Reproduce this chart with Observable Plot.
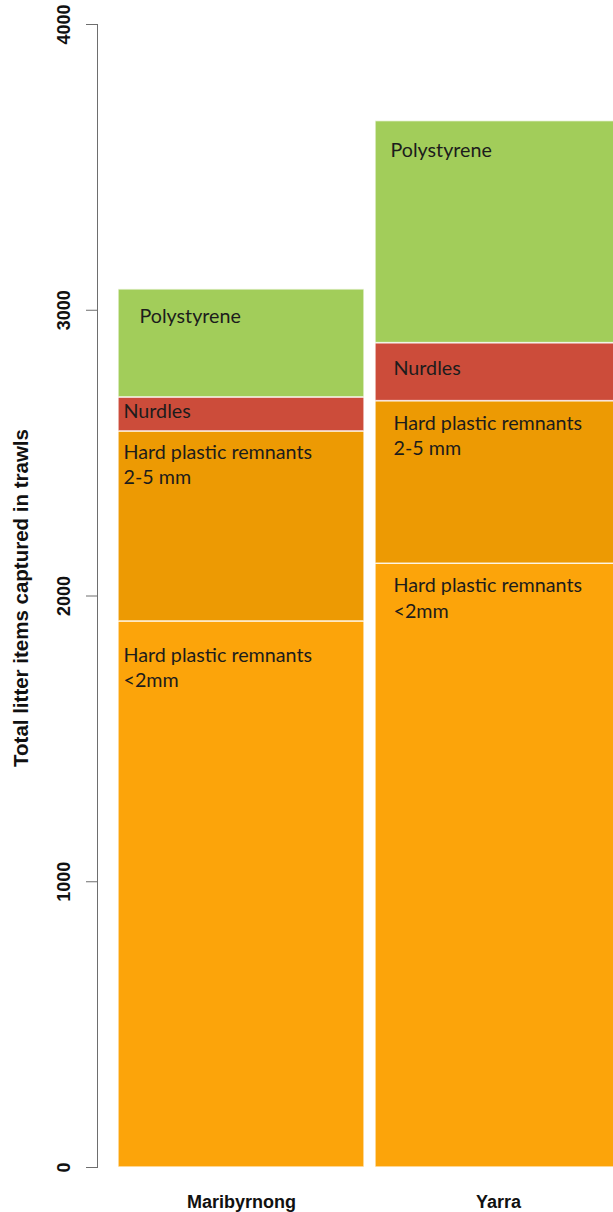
<!DOCTYPE html>
<html>
<head>
<meta charset="utf-8">
<script src="https://cdn.jsdelivr.net/npm/d3@7"></script>
<script src="https://cdn.jsdelivr.net/npm/@observablehq/plot@0.6"></script>
<style>
  html, body { margin: 0; padding: 0; background: #fff; }
  #chart svg { display: block; }
</style>
</head>
<body>
<div id="chart"></div>
<script>
// ---- data ----
const sites = ["Maribyrnong", "Yarra"];
const types = ["Hard plastic remnants <2mm", "Hard plastic remnants 2-5 mm", "Nurdles", "Polystyrene"];
const typeLabels = ["Hard plastic remnants\n<2mm", "Hard plastic remnants\n2-5 mm", "Nurdles", "Polystyrene"];
const maribyrnongCounts = [1911, 665, 119, 378];
const yarraCounts = [2113, 569, 203, 777];
const yTicks = [0, 1000, 2000, 3000, 4000];
const yTitle = "Total litter items captured in trawls";

// ---- styles / layout ----
const colors = ["#fca40a", "#ed9a03", "#cc4c3a", "#a2cd5a"];
const W = 613, H = 1212;
const LABEL_FS = 19.7;
const BAND_HALF = 123;
// [x offset from bar left, baseline offset below segment top] per site, per type
const labelNudge = {
  Maribyrnong: [[5, 37], [5, 24], [5, 17], [21, 30]],
  Yarra: [[18, 25], [18, 25], [18, 28], [15, 32]]
};

const counts = {Maribyrnong: maribyrnongCounts, Yarra: yarraCounts};
const rows = [];
for (const s of sites) {
  let cum = 0;
  types.forEach((t, i) => {
    cum += counts[s][i];
    rows.push({site: s, type: t, value: counts[s][i], top: cum, label: typeLabels[i], i});
  });
}

const labelMarks = rows.map(r => {
  const [ox, oy] = labelNudge[r.site][r.i];
  return Plot.text([r], {
    x: "site", y: "top", text: "label",
    textAnchor: "start", lineAnchor: "top", lineHeight: 1.27,
    dx: ox - BAND_HALF, dy: oy - 0.71 * LABEL_FS,
    fontFamily: "Lato, 'Open Sans', sans-serif", fontSize: LABEL_FS,
    fill: "#1c1c1c"
  });
});

const chart = Plot.plot({
  width: W, height: H,
  marginLeft: 97, marginRight: 0, marginTop: 24, marginBottom: 45,
  style: {background: "#fff", overflow: "visible"},
  x: {domain: sites, range: [118, 621], paddingInner: 11 / 257, paddingOuter: 0, axis: null},
  y: {domain: [0, 4000], axis: null},
  color: {domain: types, range: colors},
  marks: [
    Plot.barY(rows, {x: "site", y: "value", fill: "type", order: types,
      stroke: "#ffffff", strokeWidth: 1.5, strokeOpacity: 0.75}),
    ...labelMarks,
    Plot.frame({anchor: "left", stroke: "#6e6e6e", strokeWidth: 1}),
    Plot.axisY({ticks: yTicks, tickSize: 11, tickFormat: () => "", stroke: "#6e6e6e"}),
    Plot.text(yTicks, {y: d => d, text: d => String(d), frameAnchor: "left", dx: -33,
      rotate: -90, textAnchor: "middle", lineAnchor: "middle",
      fontFamily: "'Liberation Sans', Arial, sans-serif", fontWeight: "bold", fontSize: 18, fill: "#111"}),
    Plot.text([yTitle], {frameAnchor: "left", dx: -76, dy: 2, rotate: -90,
      textAnchor: "middle", lineAnchor: "middle",
      fontFamily: "'Liberation Sans', Arial, sans-serif", fontWeight: "bold", fontSize: 20.5, fill: "#111"}),
    Plot.text(sites, {x: d => d, frameAnchor: "bottom", lineAnchor: "top", dy: 28,
      fontFamily: "'Liberation Sans', Arial, sans-serif", fontWeight: "bold", fontSize: 18, fill: "#111"})
  ]
});
document.getElementById("chart").appendChild(chart);
</script>
</body>
</html>
